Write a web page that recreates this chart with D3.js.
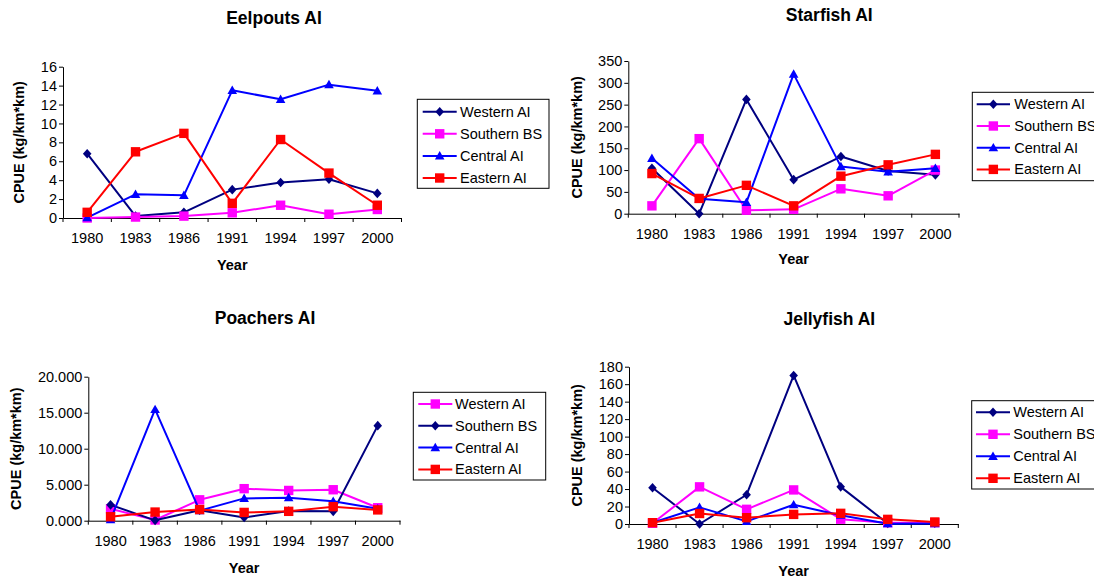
<!DOCTYPE html>
<html>
<head>
<meta charset="utf-8">
<script src="https://cdn.jsdelivr.net/npm/d3@7"></script>
<style>
  html, body { margin: 0; padding: 0; background: #fff; }
  svg { display: block; font-family: "Liberation Sans", Arial, sans-serif; }
</style>
</head>
<body>
<svg id="chart" width="1094" height="579"></svg>
<script>
// Survey years (categories on every x axis)
const years = ["1980", "1983", "1986", "1991", "1994", "1997", "2000"];
const regionNames = ["Western AI", "Southern BS", "Central AI", "Eastern AI"];

// CPUE (kg/km*km) by region
const eelpoutsWestern  = [6.8, 0.2, 0.6, 3.0, 3.75, 4.1, 2.6];
const eelpoutsSouthern = [0.0, 0.1, 0.2, 0.55, 1.35, 0.4, 0.9];
const eelpoutsCentral  = [0.05, 2.5, 2.4, 13.5, 12.55, 14.1, 13.45];
const eelpoutsEastern  = [0.6, 7.0, 8.95, 1.55, 8.3, 4.75, 1.35];

const starfishWestern  = [104, 0, 262, 78, 131, 98, 89];
const starfishSouthern = [18, 172, 8, 10, 57, 41, 100];
const starfishCentral  = [127, 34, 26, 320, 108, 96, 104];
const starfishEastern  = [92, 35, 65, 18, 86, 112, 136];

const poachersWestern  = [1.65, 0.1, 2.9, 4.45, 4.2, 4.3, 1.8];
const poachersSouthern = [2.2, 0.05, 1.45, 0.45, 1.35, 1.3, 13.2];
const poachersCentral  = [0.15, 15.45, 1.4, 3.1, 3.2, 2.7, 1.65];
const poachersEastern  = [0.55, 1.2, 1.55, 1.15, 1.3, 1.95, 1.5];

const jellyfishWestern  = [41.5, 0, 33.5, 170, 42.5, 0.5, 1];
const jellyfishSouthern = [0.8, 42.5, 16.8, 39, 5.5, 1.5, 1.5];
const jellyfishCentral  = [1.5, 19, 3, 22, 10, 0.3, 0.5];
const jellyfishEastern  = [1.5, 12, 7.2, 11, 12.2, 5.3, 2.3];

// Y tick values
const eelpoutsTicks  = [0, 2, 4, 6, 8, 10, 12, 14, 16];
const starfishTicks  = [0, 50, 100, 150, 200, 250, 300, 350];
const poachersTicks  = [0, 5, 10, 15, 20];
const jellyfishTicks = [0, 20, 40, 60, 80, 100, 120, 140, 160, 180];

// Marker / colour styles
const NAVY = {color: "#000080", marker: "diamond"};
const PINK = {color: "#FF00FF", marker: "square"};
const BLUE = {color: "#0000FF", marker: "triangle"};
const RED  = {color: "#FF0000", marker: "square"};

const markerPath = {
  diamond: "M0,-4.8L4.3,0L0,4.8L-4.3,0Z",
  square: "M-4.7,-4.7H4.7V4.7H-4.7Z",
  triangle: "M0,-4.8L4.8,3.6L-4.8,3.6Z"
};

const panels = [
  {
    title: "Eelpouts AI", tx: 274, ty: 24,
    series: [eelpoutsWestern, eelpoutsSouthern, eelpoutsCentral, eelpoutsEastern],
    styles: [NAVY, PINK, BLUE, RED],
    ticks: eelpoutsTicks, fmt: d3.format("d"),
    plot: {x0: 63, x1: 401.5, y0: 66.7, y1: 218},
    ylabX: 19, xlabY: 265,
    legend: {x: 417.3, y: 99.3, w: 131.7, h: 89, row0: 12.4, step: 22.1, l0: 5.4, l1: 39.4, tx: 42.7}
  },
  {
    title: "Starfish AI", tx: 829.3, ty: 20.7,
    series: [starfishWestern, starfishSouthern, starfishCentral, starfishEastern],
    styles: [NAVY, PINK, BLUE, RED],
    ticks: starfishTicks, fmt: d3.format("d"),
    plot: {x0: 628.3, x1: 959, y0: 61, y1: 213.7},
    ylabX: 577.3, xlabY: 259,
    legend: {x: 972.3, y: 92.3, w: 140, h: 88.4, row0: 12, step: 21.7, l0: 4.4, l1: 37.7, tx: 42}
  },
  {
    title: "Poachers AI", tx: 265, ty: 324,
    series: [poachersWestern, poachersSouthern, poachersCentral, poachersEastern],
    styles: [PINK, NAVY, BLUE, RED],
    ticks: poachersTicks, fmt: d3.format(".3f"),
    plot: {x0: 88.3, x1: 400, y0: 376.7, y1: 520.7},
    ylabX: 15.7, xlabY: 567.5,
    legend: {x: 413.3, y: 392.3, w: 132.4, h: 87.7, row0: 11.7, step: 21.8, l0: 5, l1: 39, tx: 41.7}
  },
  {
    title: "Jellyfish AI", tx: 829.3, ty: 325,
    series: [jellyfishWestern, jellyfishSouthern, jellyfishCentral, jellyfishEastern],
    styles: [NAVY, PINK, BLUE, RED],
    ticks: jellyfishTicks, fmt: d3.format("d"),
    plot: {x0: 629, x1: 958.3, y0: 366.7, y1: 524},
    ylabX: 577.3, xlabY: 571,
    legend: {x: 971.7, y: 400.7, w: 140, h: 88.3, row0: 11.6, step: 22, l0: 4.3, l1: 38.3, tx: 41.6}
  }
];

const svg = d3.select("#chart");

panels.forEach(p => {
  const g = svg.append("g");
  const x = d3.scaleBand().domain(years).range([p.plot.x0, p.plot.x1]).padding(0);
  const yMax = p.ticks[p.ticks.length - 1];
  const y = d3.scaleLinear().domain([0, yMax]).range([p.plot.y1, p.plot.y0]);
  const cx = d => x(d) + x.bandwidth() / 2;

  // title
  g.append("text")
    .attr("x", p.tx).attr("y", p.ty)
    .attr("text-anchor", "middle")
    .attr("font-size", "17.5px").attr("font-weight", "bold")
    .text(p.title);

  // y axis
  const yAxis = d3.axisLeft(y).tickValues(p.ticks).tickFormat(p.fmt)
    .tickSize(4).tickSizeOuter(0).tickPadding(2);
  const ya = g.append("g").attr("transform", `translate(${p.plot.x0},0)`).call(yAxis);
  ya.selectAll("text").attr("font-size", "14.5px").attr("fill", "#000")
    .attr("font-family", "'Liberation Sans', Arial, sans-serif");
  ya.selectAll("line, path").attr("stroke", "#000");

  // x axis: labels centred in categories, tick marks at category boundaries
  const xAxis = d3.axisBottom(x).tickSize(0).tickSizeOuter(0).tickPadding(15);
  const xa = g.append("g").attr("transform", `translate(0,${p.plot.y1})`).call(xAxis);
  xa.selectAll("text").attr("font-size", "14.5px").attr("fill", "#000")
    .attr("font-family", "'Liberation Sans', Arial, sans-serif");
  xa.select("path").attr("stroke", "#000");
  const bounds = years.map(d => x(d)).concat([x.range()[1]]);
  xa.selectAll("line.bound").data(bounds).enter().append("line")
    .attr("class", "bound")
    .attr("x1", d => d).attr("x2", d => d)
    .attr("y1", 0).attr("y2", 4)
    .attr("stroke", "#000");

  // axis titles
  g.append("text")
    .attr("transform", `translate(${p.ylabX},${(p.plot.y0 + p.plot.y1) / 2}) rotate(-90)`)
    .attr("text-anchor", "middle").attr("dy", "0.35em")
    .attr("font-size", "14.5px").attr("font-weight", "bold")
    .text("CPUE (kg/km*km)");
  g.append("text")
    .attr("x", (p.plot.x0 + p.plot.x1) / 2).attr("y", p.xlabY)
    .attr("text-anchor", "middle").attr("dy", "0.35em")
    .attr("font-size", "14.5px").attr("font-weight", "bold")
    .text("Year");

  // series lines and markers
  const line = d3.line().x((d, i) => cx(years[i])).y(d => y(d));
  p.series.forEach((vals, si) => {
    const st = p.styles[si];
    const sg = g.append("g");
    sg.append("path").datum(vals)
      .attr("d", line).attr("fill", "none")
      .attr("stroke", st.color).attr("stroke-width", 2)
      .attr("stroke-linejoin", "round");
    sg.selectAll("path.mk").data(vals).enter().append("path")
      .attr("class", "mk")
      .attr("d", markerPath[st.marker])
      .attr("transform", (d, i) => `translate(${cx(years[i])},${y(d)})`)
      .attr("fill", st.color);
  });

  // legend
  const L = p.legend;
  const lg = g.append("g").attr("transform", `translate(${L.x},${L.y})`);
  lg.append("rect").attr("width", L.w).attr("height", L.h)
    .attr("fill", "#fff").attr("stroke", "#000").attr("stroke-width", 1);
  regionNames.forEach((name, i) => {
    const st = p.styles[i];
    const ry = L.row0 + i * L.step;
    lg.append("line").attr("x1", L.l0).attr("x2", L.l1).attr("y1", ry).attr("y2", ry)
      .attr("stroke", st.color).attr("stroke-width", 2);
    lg.append("path").attr("d", markerPath[st.marker])
      .attr("transform", `translate(${(L.l0 + L.l1) / 2},${ry})`)
      .attr("fill", st.color);
    lg.append("text").attr("x", L.tx).attr("y", ry).attr("dy", "0.35em")
      .attr("font-size", "14.5px").attr("fill", "#000")
      .text(name);
  });
});
</script>
</body>
</html>
